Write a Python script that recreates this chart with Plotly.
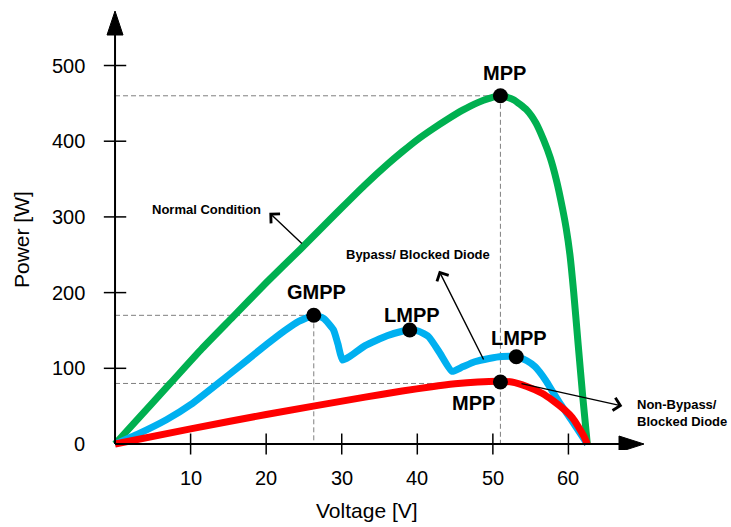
import plotly.graph_objects as go

# ---------------- data ----------------
normal_v = [0, 3, 7.3, 11.5, 15.6, 20, 24.6, 27, 30, 33, 36, 38, 40, 42, 44, 46, 48, 49.5, 51,
            52.7, 54.5, 55.7, 56.7, 57.6, 58.4, 59.2, 59.7, 60.2, 60.7, 61.3, 61.9, 62.5]
normal_p = [0, 33, 80, 126, 168, 213, 258, 282, 312, 341.5, 369, 386, 402, 416, 429, 441, 451, 456.5, 460,
            455, 441, 424, 402, 378, 349, 312, 285, 250, 200, 130, 62, 0]

bypass_v = [0, 3, 6.8, 10, 15, 20, 22.5, 24.3, 26.3, 27.6, 28.9, 29.5, 30.1, 31.1, 33.1, 36, 38, 39, 40.2,
            41.5, 43, 44.6, 46, 47.6, 49.5, 51.2, 53.1, 54.5, 55.6, 57, 57.8, 59, 60.4, 61.5, 62.5]
bypass_p = [0, 13, 32, 52, 91, 131, 150, 162, 170, 166, 151, 132, 111, 116, 130, 143, 149, 150.6, 149,
            141.7, 120, 96, 102, 108.7, 113, 115.5, 115.3, 110, 102, 84, 71, 52, 31.7, 15, 0]

nonbypass_v = [0, 10, 20, 33.1, 38, 41.9, 45, 48, 50.7, 52.5, 54.5, 56.5, 58, 59.5, 60.5, 61.3, 62, 62.5]
nonbypass_p = [0, 20, 39, 62, 70, 75.7, 79.5, 82, 83, 82, 76, 67, 57, 45, 35, 23, 11, 0]

# marked points
mpp_normal = (51.0, 460.0)
gmpp = (26.3, 170.0)
lmpp1 = (39.0, 150.6)
lmpp2 = (53.1, 115.3)
mpp_nonbypass = (51.0, 82.0)

x_ticks = [10, 20, 30, 40, 50, 60]
y_ticks = [0, 100, 200, 300, 400, 500]
x_max = 70
y_max = 572

FONT = "Liberation Sans"
GREEN = "#00B050"
BLUE = "#00B0F0"
RED = "#FF0000"
DASH = "#7F7F7F"

# layout geometry (page body margin removed via post_script)
W, H = 731, 527
ML, MR, MT, MB = 104, 87, 11, 77
PW, PH = W - ML - MR, H - MT - MB


def paper_xy(px, py):
    """screen pixel -> paper coords"""
    return (px - ML) / PW, 1 - (py - MT) / PH


fig = go.Figure()

# dashed guide lines
guides = [
    ([0, mpp_normal[0]], [mpp_normal[1], mpp_normal[1]]),
    ([mpp_normal[0], mpp_normal[0]], [mpp_normal[1], 0]),
    ([0, gmpp[0]], [gmpp[1], gmpp[1]]),
    ([gmpp[0], gmpp[0]], [gmpp[1], 0]),
    ([0, mpp_nonbypass[0] - 0.6], [80, 80]),
]
for gx, gy in guides:
    fig.add_trace(go.Scatter(x=gx, y=gy, mode="lines",
                             line=dict(color=DASH, width=1, dash="5px,3px"),
                             hoverinfo="skip", showlegend=False))

# curves
fig.add_trace(go.Scatter(x=normal_v, y=normal_p, mode="lines",
                         line=dict(color=GREEN, width=7, shape="spline", smoothing=0.6),
                         showlegend=False))
fig.add_trace(go.Scatter(x=bypass_v, y=bypass_p, mode="lines",
                         line=dict(color=BLUE, width=7, shape="spline", smoothing=0.5),
                         showlegend=False))
fig.add_trace(go.Scatter(x=nonbypass_v, y=nonbypass_p, mode="lines",
                         line=dict(color=RED, width=7, shape="spline", smoothing=0.6),
                         showlegend=False))

# tick marks
fig.add_trace(go.Scatter(x=x_ticks, y=[0] * len(x_ticks), mode="markers",
                         marker=dict(symbol="line-ns", size=15, line=dict(color="black", width=1.5)),
                         cliponaxis=False, hoverinfo="skip", showlegend=False))
fig.add_trace(go.Scatter(x=[0] * (len(y_ticks) - 1), y=y_ticks[1:], mode="markers",
                         marker=dict(symbol="line-ew", size=16, line=dict(color="black", width=1.5)),
                         cliponaxis=False, hoverinfo="skip", showlegend=False))

# points
pts = [mpp_normal, gmpp, lmpp1, lmpp2, mpp_nonbypass]
fig.add_trace(go.Scatter(x=[p[0] for p in pts], y=[p[1] for p in pts], mode="markers",
                         marker=dict(color="black", size=15), cliponaxis=False, showlegend=False))

# axes lines with arrowheads
shapes = [
    dict(type="line", xref="x", yref="y", x0=0, y0=0, x1=x_max - 1, y1=0,
         line=dict(color="black", width=2)),
    dict(type="line", xref="x", yref="y", x0=0, y0=0, x1=0, y1=y_max - 10,
         line=dict(color="black", width=2)),
    dict(type="path", xref="x", yref="y", xsizemode="pixel", ysizemode="pixel",
         xanchor=x_max, yanchor=0, path="M -25 -8 L 0 0 L -25 8 Z",
         fillcolor="black", line=dict(color="black", width=1)),
    dict(type="path", xref="x", yref="y", xsizemode="pixel", ysizemode="pixel",
         xanchor=0, yanchor=y_max, path="M -8 -24 L 0 0 L 8 -24 Z",
         fillcolor="black", line=dict(color="black", width=1)),
]

big = dict(family=FONT, size=20, color="black")
small = dict(family=FONT, size=13, color="black")
tickf = dict(family=FONT, size=20, color="black")
titlef = dict(family=FONT, size=21, color="black")

annotations = [
    dict(x=51.6, y=490.5, text="<b>MPP</b>", font=big),
    dict(x=26.7, y=200.4, text="<b>GMPP</b>", font=big),
    dict(x=39.3, y=170.4, text="<b>LMPP</b>", font=big),
    dict(x=53.4, y=140.4, text="<b>LMPP</b>", font=big),
    dict(x=47.5, y=54.6, text="<b>MPP</b>", font=big),
    dict(x=12.1, y=310, text="<b>Normal Condition</b>", font=small),
    dict(x=40.1, y=249.7, text="<b>Bypass/ Blocked Diode</b>", font=small),
    dict(x=68.8, y=40.5, text="<b>Non-Bypass/<br>Blocked Diode</b>", font=small,
         xanchor="left", align="left"),
]
for a in annotations:
    a.update(xref="x", yref="y", showarrow=False)

# tick labels
for v in x_ticks:
    annotations.append(dict(x=v, y=0, xref="x", yref="y", text=str(v), font=tickf,
                            showarrow=False, xanchor="center", yanchor="middle", yshift=-34))
for v in y_ticks:
    annotations.append(dict(x=0, y=v, xref="x", yref="y", text=str(v), font=tickf,
                            showarrow=False, xanchor="right", yanchor="middle", xshift=-28))

# axis titles
tx, ty = paper_xy(21, 240)
annotations.append(dict(x=tx, y=ty, xref="paper", yref="paper", text="Power [W]", textangle=-90,
                        xanchor="center", yanchor="middle", font=titlef, showarrow=False))
tx, ty = paper_xy(366.5, 510)
annotations.append(dict(x=tx, y=ty, xref="paper", yref="paper", text="Voltage [V]",
                        xanchor="center", yanchor="middle", font=titlef, showarrow=False))

arrows = [
    ((24.92, 262.9), (20.42, 305.5)),
    ((48.87, 109.6), (42.87, 228.9)),
    ((53.59, 80.2), (67.13, 50.2)),
]
for (ax_, ay_), (hx, hy) in arrows:
    annotations.append(dict(x=hx, y=hy, ax=ax_, ay=ay_, xref="x", yref="y", axref="x", ayref="y",
                            text="", showarrow=True, arrowhead=4, arrowsize=1.8, arrowwidth=1.4,
                            arrowcolor="black", standoff=0, startstandoff=0))

fig.update_layout(
    width=W, height=H,
    margin=dict(l=ML, r=MR, t=MT, b=MB),
    paper_bgcolor="white", plot_bgcolor="white",
    shapes=shapes, annotations=annotations,
    xaxis=dict(range=[-1.46, x_max], showticklabels=False, ticks="", showgrid=False,
               zeroline=False, showline=False),
    yaxis=dict(range=[-7.9, y_max], showticklabels=False, ticks="", showgrid=False,
               zeroline=False, showline=False),
    showlegend=False,
)

fig.write_html("out.html", config={"displayModeBar": False},
               post_script="document.body.style.margin='0';document.body.style.overflow='hidden';")
